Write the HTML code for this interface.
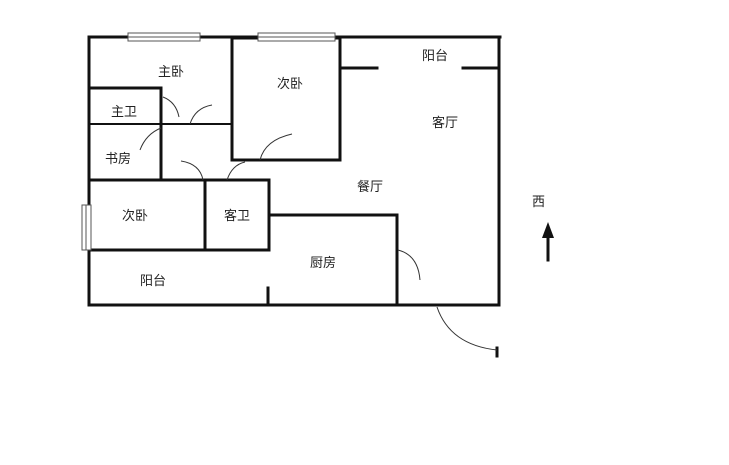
<!DOCTYPE html>
<html><head><meta charset="utf-8"><style>
html,body{margin:0;padding:0;background:#fff;width:729px;height:465px;overflow:hidden}
text{font-family:"Liberation Sans","Noto Sans CJK SC",sans-serif;font-size:13px;fill:#222}
</style></head><body>
<svg width="729" height="465" xmlns="http://www.w3.org/2000/svg">
<g stroke="#111" stroke-width="3" fill="none" stroke-linecap="square">
<line x1="89" y1="37" x2="500" y2="37"/>
<line x1="89" y1="37" x2="89" y2="305"/>
<line x1="499" y1="37" x2="499" y2="305"/>
<line x1="89" y1="305" x2="499" y2="305"/>
<rect x="232" y="38" width="108" height="122"/>
<line x1="342" y1="68" x2="377" y2="68"/>
<line x1="463" y1="68" x2="498" y2="68"/>
<line x1="89" y1="88" x2="161" y2="88"/>
<line x1="161" y1="88" x2="161" y2="179"/>
<line x1="89" y1="124" x2="232" y2="124" stroke-width="2"/>
<line x1="89" y1="180" x2="269" y2="180"/>
<line x1="205" y1="180" x2="205" y2="250"/>
<line x1="269" y1="180" x2="269" y2="250"/>
<line x1="268" y1="288" x2="268" y2="304"/>
<line x1="89" y1="250" x2="268" y2="250"/>
<line x1="270" y1="215" x2="397" y2="215"/>
<line x1="397" y1="215" x2="397" y2="305"/>
<line x1="497" y1="348" x2="497" y2="356"/>
<line x1="548" y1="236" x2="548" y2="260"/>
</g>
<polygon points="548,222 542,238 554,238" fill="#111"/>
<g stroke="#555" stroke-width="1" fill="#fff">
<rect x="128" y="33" width="72" height="8"/><line x1="128" y1="37" x2="200" y2="37"/>
<rect x="258" y="33" width="77" height="8"/><line x1="258" y1="37" x2="335" y2="37"/>
<rect x="82" y="205" width="9" height="45"/><line x1="86" y1="205" x2="86" y2="250"/>
</g>
<g stroke="#333" stroke-width="1" fill="none">
<path d="M163,97 Q176,102 179,117"/>
<path d="M190,124 Q195,108 212,105"/>
<path d="M161,128 Q146,134 140,150"/>
<path d="M181,161 Q200,164 203,180"/>
<path d="M227,180 Q232,165 245,162"/>
<path d="M260,160 Q265,140 292,134"/>
<path d="M398,250 Q418,255 420,280"/>
<path d="M437,307 Q450,345 497,350"/>
</g>
<text x="158" y="76">主卧</text>
<text x="277" y="88">次卧</text>
<text x="422" y="60">阳台</text>
<text x="432" y="127">客厅</text>
<text x="111" y="116">主卫</text>
<text x="105" y="163">书房</text>
<text x="357" y="191">餐厅</text>
<text x="122" y="220">次卧</text>
<text x="224" y="220">客卫</text>
<text x="310" y="267">厨房</text>
<text x="140" y="285">阳台</text>
<text x="532" y="206">西</text>
</svg>
</body></html>
